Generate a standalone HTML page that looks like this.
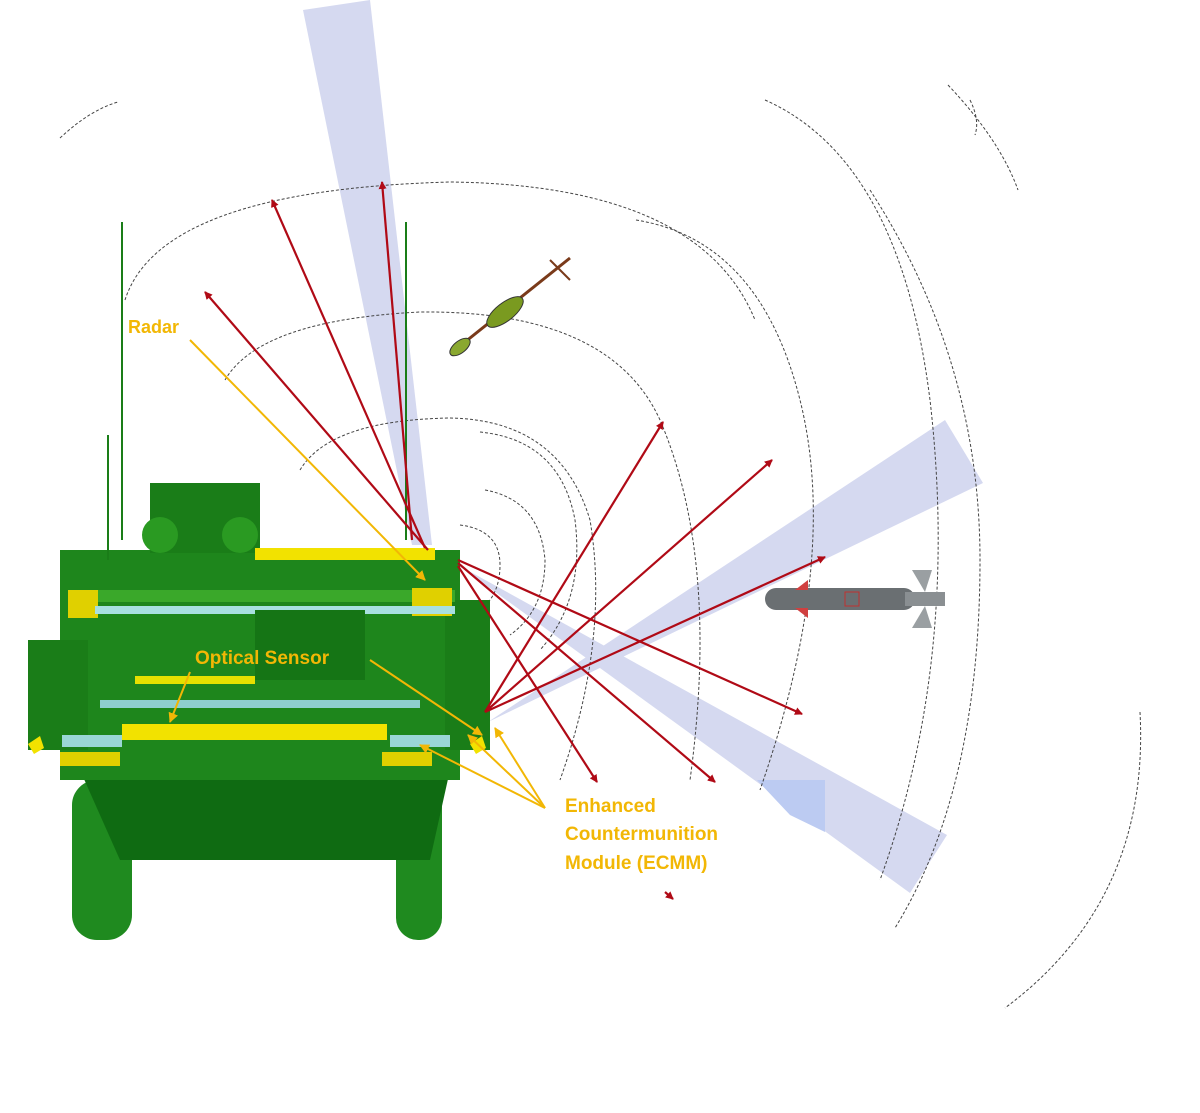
<!DOCTYPE html>
<html><head><meta charset="utf-8"><style>
html,body{margin:0;padding:0;background:#fff;}
svg{display:block;}
text{font-family:"Liberation Sans",sans-serif;font-weight:bold;fill:#f2b705;}
</style></head><body>
<svg width="1200" height="1113" viewBox="0 0 1200 1113" xmlns="http://www.w3.org/2000/svg">
<defs>
<marker id="ar" markerWidth="8" markerHeight="8" refX="7" refY="4" orient="auto" markerUnits="userSpaceOnUse"><path d="M0,0 L8,4 L0,8 Z" fill="#b00a16"/></marker>
<marker id="ay" markerWidth="10" markerHeight="10" refX="9" refY="5" orient="auto" markerUnits="userSpaceOnUse"><path d="M0,0 L10,5 L0,10 Z" fill="#f2b705"/></marker>
</defs>
<!-- beams -->
<polygon points="303,10 370,0 432,545 412,545" fill="#d5d9f0"/>
<polygon points="488,722 945,420 983,483" fill="#d5d9f0"/>
<polygon points="458,565 947,835 910,893" fill="#d5d9f0"/>
<polygon points="757,780 825,780 825,832 790,815" fill="#bccbf2"/>
<!-- dashed arcs -->
<g fill="none" stroke="#444" stroke-width="1" stroke-dasharray="3,2">
<path d="M60,138 Q90,110 118,102"/>
<path d="M125,300 Q160,190 450,182 Q700,185 755,320"/>
<path d="M225,380 Q260,320 420,312 Q610,310 660,420 Q720,560 690,780"/>
<path d="M300,470 Q330,420 450,418 Q560,420 590,520 Q610,640 560,780"/>
<path d="M480,432 Q560,440 575,520 Q585,600 540,650"/>
<path d="M485,490 Q540,500 545,560 Q545,610 510,635"/>
<path d="M460,525 Q500,530 500,565 Q500,595 480,610"/>
<path d="M636,220 Q760,240 800,400 Q840,560 760,790"/>
<path d="M765,100 Q900,160 930,400 Q960,660 880,880"/>
<path d="M948,85 Q1000,140 1018,190"/>
<path d="M970,100 Q980,120 975,135"/>
<path d="M870,190 Q980,360 980,560 Q980,790 895,928"/>
<path d="M1140,712 Q1150,900 1005,1008"/>
</g>
<!-- vehicle -->
<g>
<rect x="72" y="780" width="60" height="160" rx="25" fill="#1f8a1f"/>
<rect x="396" y="780" width="46" height="160" rx="22" fill="#1f8a1f"/>
<polygon points="80,770 450,770 430,860 120,860" fill="#0f6b12"/>
<rect x="60" y="550" width="400" height="230" fill="#1e861c"/>
<rect x="28" y="640" width="60" height="110" fill="#1a7d18"/>
<rect x="445" y="600" width="45" height="150" fill="#1a7d18"/>
<rect x="150" y="483" width="110" height="70" fill="#1a7d18"/>
<circle cx="160" cy="535" r="18" fill="#2a9a22"/><circle cx="240" cy="535" r="18" fill="#2a9a22"/>
<rect x="95" y="590" width="360" height="12" fill="#3aa82a"/>
<rect x="255" y="548" width="180" height="12" fill="#f2e200"/>
<rect x="68" y="590" width="30" height="28" fill="#e0d000"/>
<rect x="412" y="588" width="40" height="28" fill="#e0d000"/>
<rect x="95" y="606" width="360" height="8" fill="#a8e0e0"/>
<rect x="135" y="676" width="120" height="8" fill="#e6e000"/>
<rect x="62" y="735" width="60" height="12" fill="#9ad6d6"/>
<rect x="122" y="724" width="265" height="16" fill="#f2e200"/>
<rect x="390" y="735" width="60" height="12" fill="#9ad6d6"/>
<rect x="60" y="752" width="60" height="14" fill="#e0d000"/>
<rect x="382" y="752" width="50" height="14" fill="#e0d000"/>
<rect x="100" y="700" width="320" height="8" fill="#8fcfcf"/>
<rect x="255" y="610" width="110" height="70" fill="#157515"/>
<line x1="122" y1="222" x2="122" y2="540" stroke="#1a7d18" stroke-width="2"/>
<line x1="406" y1="222" x2="406" y2="540" stroke="#1a7d18" stroke-width="2"/>
<line x1="108" y1="435" x2="108" y2="560" stroke="#1a7d18" stroke-width="2"/>
<polygon points="28,744 40,736 44,748 34,754" fill="#f2e200"/>
<polygon points="470,744 482,736 486,748 476,754" fill="#f2e200"/>
</g>
<!-- red arrows -->
<g stroke="#b00a16" stroke-width="2.2" marker-end="url(#ar)">
<line x1="425" y1="548" x2="272" y2="200"/>
<line x1="412" y1="540" x2="382" y2="182"/>
<line x1="428" y1="550" x2="205" y2="292"/>
<line x1="458" y1="560" x2="802" y2="714"/>
<line x1="458" y1="563" x2="715" y2="782"/>
<line x1="458" y1="566" x2="597" y2="782"/>
<line x1="485" y1="712" x2="663" y2="422"/>
<line x1="485" y1="712" x2="772" y2="460"/>
<line x1="485" y1="712" x2="825" y2="557"/>
<line x1="665" y1="892" x2="673" y2="899"/>
</g>
<!-- yellow leaders -->
<g stroke="#f2b705" stroke-width="2" marker-end="url(#ay)">
<line x1="190" y1="340" x2="425" y2="580"/>
<line x1="190" y1="672" x2="170" y2="722"/>
<line x1="370" y1="660" x2="482" y2="735"/>
<line x1="545" y1="808" x2="420" y2="745"/>
<line x1="545" y1="808" x2="468" y2="735"/>
<line x1="545" y1="808" x2="495" y2="728"/>
</g>
<text x="128" y="333" font-size="18">Radar</text>
<text x="195" y="664" font-size="19">Optical Sensor</text>
<text x="565" y="812" font-size="19">Enhanced</text>
<text x="565" y="840" font-size="19">Countermunition</text>
<text x="565" y="869" font-size="19">Module (ECMM)</text>
<!-- RPG -->
<g>
<line x1="455" y1="350" x2="570" y2="258" stroke="#7a3a1a" stroke-width="3"/>
<ellipse cx="505" cy="312" rx="22" ry="9" transform="rotate(-38 505 312)" fill="#7a9a20" stroke="#333"/>
<ellipse cx="460" cy="347" rx="12" ry="6" transform="rotate(-38 460 347)" fill="#8aa830" stroke="#333"/>
<line x1="550" y1="260" x2="570" y2="280" stroke="#7a3a1a" stroke-width="2"/>
</g>
<!-- bomb -->
<g>
<rect x="765" y="588" width="150" height="22" rx="11" fill="#6a6f72"/>
<rect x="905" y="592" width="40" height="14" fill="#8a8f92"/>
<polygon points="912,570 932,570 925,592" fill="#9a9fa2"/>
<polygon points="912,628 932,628 925,606" fill="#9a9fa2"/>
<polygon points="795,590 808,580 808,590" fill="#d04040"/>
<polygon points="795,608 808,618 808,608" fill="#d04040"/>
<rect x="845" y="592" width="14" height="14" fill="none" stroke="#c03030"/>
</g>
</svg>
</body></html>
